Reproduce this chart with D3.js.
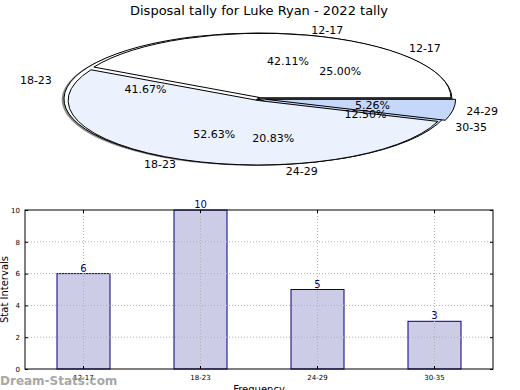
<!DOCTYPE html>
<html>
<head>
<meta charset="utf-8">
<script src="https://cdn.jsdelivr.net/npm/d3@7"></script>
<style>
  body { margin: 0; background: #fff; }
  svg { display: block; font-family: "DejaVu Sans", sans-serif; }
</style>
</head>
<body>
<script>
// data
const categories = ["12-17", "18-23", "24-29", "30-35"]
const counts = [6, 10, 5, 3]
const pieBCategories = ["12-17", "18-23", "24-29"]
const pieBCounts = [8, 10, 1]
const yTicks = [0, 2, 4, 6, 8, 10]

const pieAColors = ["#ffffff", "#ffffff", "#ebf1fd", "#c5d8fa"]
const pieBColors = ["#ffffff", "#ebf1fd", "#c5d8fa"]
const pieAExplode = [0, 0, 0, 0]
const pieBExplode = [0.02, 0.025, 0.03]

let width = 520
let height = 390

let svg = d3.select("body").append("svg")
  .attr("width", width)
  .attr("height", height)

svg.append("text")
  .attr("x", 259)
  .attr("y", 15)
  .attr("text-anchor", "middle")
  .attr("font-size", 13)
  .text("Disposal tally for Luke Ryan - 2022 tally")

// pie helpers (matplotlib style: start at 3 o'clock, counterclockwise)
const R = 100
let pie = d3.pie().sort(null)
  .startAngle(Math.PI / 2)
  .endAngle(Math.PI / 2 - 2 * Math.PI)
let arc = d3.arc().innerRadius(0).outerRadius(R)

function drawPie(g, pos, labels, values, colors, explode, shadow) {
  let arcs = pie(values)
  let wg = g.append("g")
    .attr("transform", `translate(${pos.cx},${pos.cy}) scale(${pos.rx / R},${pos.ry / R})`)

  if (shadow) {
    // soft shadow, offset down-left
    wg.append("g")
      .attr("transform", `translate(${-0.012 * R},${0.012 * R})`)
      .selectAll("path")
      .data(arcs)
      .enter()
      .append("path")
        .attr("d", arc)
        .attr("fill", "#8a8a8a")
  }

  wg.selectAll("path.wedge")
    .data(arcs)
    .enter()
    .append("path")
      .attr("class", "wedge")
      .attr("d", arc)
      .attr("transform", (d, i) => {
        let mid = (d.startAngle + d.endAngle) / 2
        let e = explode[i] * R
        return `translate(${e * Math.sin(mid)},${-e * Math.cos(mid)})`
      })
      .attr("fill", (d, i) => colors[i])
      .attr("stroke", "#000")
      .attr("stroke-width", 1)
      .attr("vector-effect", "non-scaling-stroke")

  let total = d3.sum(values)
  return arcs.map((d, i) => {
    let mid = (d.startAngle + d.endAngle) / 2
    return {
      label: labels[i],
      pct: (values[i] / total * 100).toFixed(2) + "%",
      lx: pos.cx + pos.rx * 1.1 * Math.sin(mid),
      ly: pos.cy - pos.ry * 1.1 * Math.cos(mid),
      px: pos.cx + pos.rx * 0.6 * Math.sin(mid),
      py: pos.cy - pos.ry * 0.6 * Math.cos(mid)
    }
  })
}

let pieG = svg.append("g")
let textsA = drawPie(pieG, {cx: 258, cy: 99, rx: 194, ry: 66}, categories, counts, pieAColors, pieAExplode, true)
let textsB = drawPie(pieG, {cx: 260, cy: 99, rx: 190, ry: 64.5}, pieBCategories, pieBCounts, pieBColors, pieBExplode, false)

let allTexts = textsA.concat(textsB)
let tg = svg.append("g").attr("font-size", 11)
tg.selectAll("text.lab")
  .data(allTexts)
  .enter()
  .append("text")
    .attr("x", d => d.lx)
    .attr("y", d => d.ly)
    .attr("dy", "0.35em")
    .attr("text-anchor", d => d.lx > 259 ? "start" : "end")
    .text(d => d.label)
tg.selectAll("text.pct")
  .data(allTexts)
  .enter()
  .append("text")
    .attr("x", d => d.px)
    .attr("y", d => d.py)
    .attr("dy", "0.35em")
    .attr("text-anchor", "middle")
    .text(d => d.pct)

// bar chart
let plotLeft = 25, plotRight = 493, plotTop = 210, plotBottom = 369

let x = d3.scaleBand()
  .domain(categories)
  .range([plotLeft, plotRight])
  .paddingInner(0.547)
  .paddingOuter(0.2735)
let y = d3.scaleLinear().domain([0, 10]).range([plotBottom, plotTop])

let barG = svg.append("g")

barG.selectAll("rect")
  .data(categories)
  .enter()
  .append("rect")
    .attr("x", d => x(d))
    .attr("y", (d, i) => y(counts[i]))
    .attr("width", x.bandwidth())
    .attr("height", (d, i) => y(0) - y(counts[i]))
    .attr("fill", "#ccccE6")
    .attr("stroke", "#000080")
    .attr("stroke-width", 1)

// grid
let grid = barG.append("g")
  .attr("stroke", "#b0b0b0")
  .attr("stroke-dasharray", "1,2")
grid.selectAll("line.h")
  .data(yTicks.slice(1, -1))
  .enter()
  .append("line")
    .attr("x1", plotLeft).attr("x2", plotRight)
    .attr("y1", d => y(d)).attr("y2", d => y(d))
grid.selectAll("line.v")
  .data(categories)
  .enter()
  .append("line")
    .attr("x1", d => x(d) + x.bandwidth() / 2)
    .attr("x2", d => x(d) + x.bandwidth() / 2)
    .attr("y1", plotTop).attr("y2", plotBottom)

barG.selectAll("text.val")
  .data(categories)
  .enter()
  .append("text")
    .attr("x", d => x(d) + x.bandwidth() / 2)
    .attr("y", (d, i) => y(counts[i]) - 2)
    .attr("text-anchor", "middle")
    .attr("font-size", 10)
    .attr("fill", "#000080")
    .text((d, i) => counts[i])

// axes
let yAxis = d3.axisLeft(y).tickValues(yTicks).tickSizeInner(-3).tickSizeOuter(0).tickPadding(5)
svg.append("g").attr("transform", `translate(${plotLeft},0)`).call(yAxis)
let xAxis = d3.axisBottom(x).tickSizeInner(-3).tickSizeOuter(0).tickPadding(6)
svg.append("g").attr("transform", `translate(0,${plotBottom})`).call(xAxis)
let yAxisR = d3.axisRight(y).tickValues(yTicks).tickSizeInner(-3).tickSizeOuter(0).tickFormat("")
svg.append("g").attr("transform", `translate(${plotRight},0)`).call(yAxisR)
let xAxisT = d3.axisTop(x).tickSizeInner(-3).tickSizeOuter(0).tickFormat("")
svg.append("g").attr("transform", `translate(0,${plotTop})`).call(xAxisT)

svg.selectAll(".domain").remove()
svg.selectAll(".tick text").attr("font-size", 7).attr("font-family", "DejaVu Sans, sans-serif").attr("fill", "#000")
svg.selectAll(".tick line").attr("stroke", "#000")

svg.append("rect")
  .attr("x", plotLeft).attr("y", plotTop)
  .attr("width", plotRight - plotLeft).attr("height", plotBottom - plotTop)
  .attr("fill", "none")
  .attr("stroke", "#000")
  .attr("stroke-width", 1)

svg.append("text")
  .attr("transform", `translate(8,${(plotTop + plotBottom) / 2}) rotate(-90)`)
  .attr("text-anchor", "middle")
  .attr("font-size", 10)
  .text("Stat Intervals")

svg.append("text")
  .attr("x", 259)
  .attr("y", 393)
  .attr("text-anchor", "middle")
  .attr("font-size", 10)
  .text("Frequency")

svg.append("text")
  .attr("x", 0)
  .attr("y", 385)
  .attr("font-size", 12)
  .attr("font-weight", "bold")
  .attr("fill", "#999")
  .attr("opacity", 0.85)
  .text("Dream-Stats.com")
</script>
</body>
</html>
